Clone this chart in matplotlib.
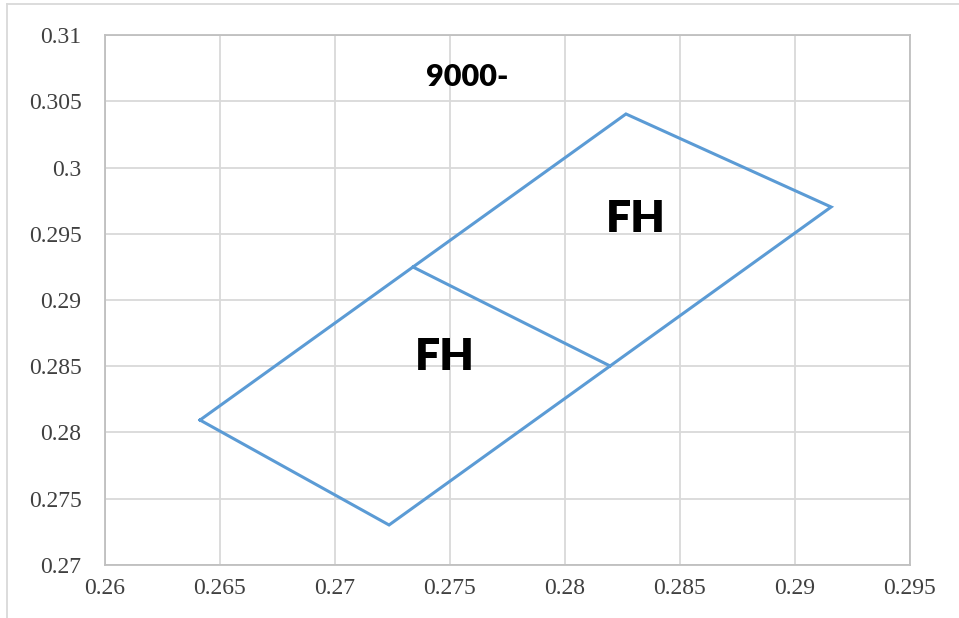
import matplotlib
matplotlib.use("Agg")
from matplotlib import pyplot as plt
from matplotlib.lines import Line2D

# outline of the big parallelogram (closed) and the dividing segment
outer_x = [0.26413, 0.27235, 0.29157, 0.28265, 0.26413]
outer_y = [0.28094, 0.27302, 0.29702, 0.30404, 0.28094]
div_x = [0.27339, 0.28196]
div_y = [0.29249, 0.28502]

xticks = [0.26, 0.265, 0.27, 0.275, 0.28, 0.285, 0.29, 0.295]
yticks = [0.27, 0.275, 0.28, 0.285, 0.29, 0.295, 0.3, 0.305, 0.31]
xlabels = ["0.26", "0.265", "0.27", "0.275", "0.28", "0.285", "0.29", "0.295"]
ylabels = ["0.27", "0.275", "0.28", "0.285", "0.29", "0.295", "0.3", "0.305", "0.31"]

fig = plt.figure(figsize=(9.59, 6.18), dpi=100)
ax = fig.add_axes([105/959, 1-565/618, (910-105)/959, (565-35)/618])

blue = "#5b9bd5"
ax.plot(outer_x, outer_y, color=blue, lw=2.2, solid_joinstyle="miter")
ax.plot(div_x, div_y, color=blue, lw=2.2)

ax.set_xlim(0.26, 0.295)
ax.set_ylim(0.27, 0.31)
ax.set_xticks(xticks)
ax.set_yticks(yticks)
ax.set_xticklabels(xlabels, family="Liberation Serif", fontsize=17, color="#404040")
ax.set_yticklabels(ylabels, family="Liberation Serif", fontsize=17, color="#404040")
ax.tick_params(axis="both", length=0)
ax.tick_params(axis="y", pad=17)
ax.tick_params(axis="x", pad=9)
ax.grid(True, color="#d9d9d9", lw=1.3)
ax.set_axisbelow(True)
for s in ax.spines.values():
    s.set_color("#bfbfbf")
    s.set_linewidth(1.3)

ax.text(0.27574, 0.30683, "9000-", family="Lato", weight="heavy", fontsize=22,
        ha="center", va="center", color="black")
ax.text(0.28309, 0.29611, "FH", family="Lato", weight="heavy", fontsize=32,
        ha="center", va="center", color="black")
ax.text(0.27478, 0.28570, "FH", family="Lato", weight="heavy", fontsize=32,
        ha="center", va="center", color="black")

# outer chart border (cut off at right and bottom)
fig.add_artist(Line2D([7/959, 1], [1-4/618, 1-4/618], color="#d9d9d9", lw=1.3))
fig.add_artist(Line2D([7/959, 7/959], [0, 1-4/618], color="#d9d9d9", lw=1.3))

fig.savefig("out.png", dpi=100)
